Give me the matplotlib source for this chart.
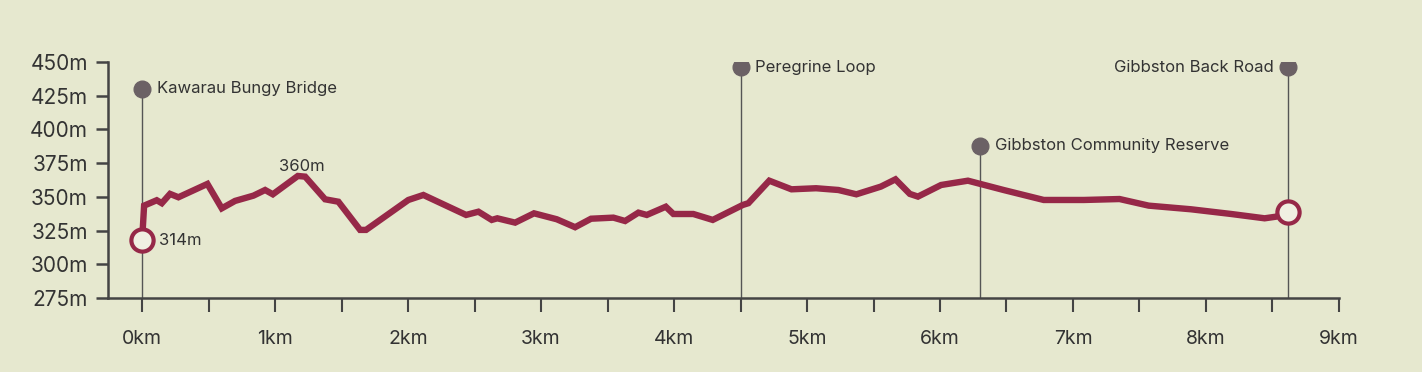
import numpy as np
import matplotlib.pyplot as plt

# elevation profile
dist_km = [0.0, 0.015, 0.11, 0.148, 0.21, 0.273, 0.491, 0.599, 0.699, 0.837, 0.925, 0.983,
           1.171, 1.226, 1.376, 1.476, 1.639, 1.684, 2.002, 2.115, 2.436, 2.529, 2.629, 2.671,
           2.805, 2.947, 3.118, 3.256, 3.376, 3.544, 3.632, 3.732, 3.795, 3.938, 3.995, 4.145,
           4.291, 4.517, 4.559, 4.716, 4.883, 5.068, 5.236, 5.371, 5.555, 5.665, 5.773, 5.834,
           6.008, 6.210, 6.478, 6.780, 7.082, 7.350, 7.569, 7.887, 8.190, 8.441, 8.526, 8.62]
elev_m = [318, 343.5, 347.5, 345.3, 352.2, 349.7, 359.6, 341.5, 347, 350.9, 355.1, 351.9,
          365.5, 365, 348.2, 346.4, 325.5, 325.5, 347.7, 351.4, 336.6, 339, 332.9, 334.1,
          330.9, 337.8, 333.4, 327.5, 333.8, 334.6, 332.1, 338.3, 336.6, 342.7, 337.3, 337.3,
          332.9, 344, 345.3, 362, 355.6, 356.4, 355.1, 351.9, 357.6, 363, 352.2, 350.2,
          358.8, 362, 355.1, 347.7, 347.7, 348.4, 343.5, 340.8, 337.3, 334.1, 335.3, 338.6]

poi_names = ['Kawarau Bungy Bridge', 'Peregrine Loop', 'Gibbston Community Reserve', 'Gibbston Back Road']
poi_km = [0.0, 4.5, 6.3, 8.62]
poi_elev = [430, 446, 388, 446]
poi_side = ['right', 'right', 'right', 'left']

yticks = [275, 300, 325, 350, 375, 400, 425, 450]

bg = '#e6e8cf'
line_col = '#962848'
txt = '#333333'
plt.rcParams['font.family'] = ['Inter', 'DejaVu Sans']

fig = plt.figure(figsize=(14.22, 3.72), dpi=100, facecolor=bg)
ax = fig.add_axes([0.0760, 0.1989, 0.9416 - 0.0760, 0.8333 - 0.1989])
ax.set_facecolor(bg)

# points of interest
for name, x, y, side in zip(poi_names, poi_km, poi_elev, poi_side):
    ax.plot([x, x], [275, y], color='#555555', lw=1, zorder=1)
    ax.plot(x, y, 'o', ms=12, color='#6b6165', zorder=2)
    if side == 'right':
        ax.text(x + 0.11, y, name, ha='left', va='center', fontsize=12, color=txt)
    else:
        ax.text(x - 0.11, y, name, ha='right', va='center', fontsize=12, color=txt)

ax.plot(dist_km, elev_m, color=line_col, lw=4.6, solid_joinstyle='miter', zorder=3)
ax.plot([dist_km[0], dist_km[-1]], [elev_m[0], elev_m[-1]], 'o', ms=16, mfc='#f0f0e2',
        mec=line_col, mew=3, zorder=4)

ax.text(0.13, elev_m[0], '314m', ha='left', va='center', fontsize=12, color=txt)
ax.text(1.2, 367, '360m', ha='center', va='bottom', fontsize=12, color=txt)

ax.set_xlim(-0.256, 9)
ax.set_ylim(275, 450)
ax.set_yticks(yticks)
ax.set_yticklabels([f'{v}m' for v in yticks])
xt = np.arange(0, 9.01, 0.5)
ax.set_xticks(xt)
ax.set_xticklabels([f'{int(v)}km' if v == int(v) else '' for v in xt])

for s in ['top', 'right']:
    ax.spines[s].set_visible(False)
for s in ['left', 'bottom']:
    ax.spines[s].set_color('#444444')
    ax.spines[s].set_linewidth(1.8)
ax.tick_params(axis='y', length=8.5, width=1.8, color='#444444', labelsize=15, labelcolor=txt, pad=6)
ax.tick_params(axis='x', length=10, width=1.5, color='#444444', labelsize=14, labelcolor=txt, pad=13)

fig.savefig('out.png', dpi=100, facecolor=bg)
